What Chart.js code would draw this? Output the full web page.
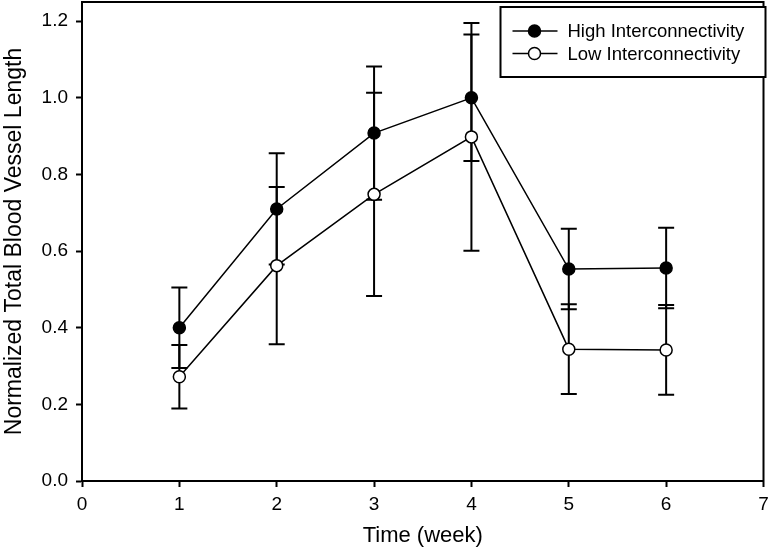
<!DOCTYPE html>
<html>
<head>
<meta charset="utf-8">
<script src="https://cdn.jsdelivr.net/npm/chart.js@4"></script>
<style>
  html, body { margin: 0; padding: 0; background: #fff; }
  #wrap { width: 771px; height: 550px; }
</style>
</head>
<body>
<div id="wrap"><canvas id="myChart"></canvas></div>
<script>
// datos
const weeks = [1, 2, 3, 4, 5, 6];
const highVals = [0.40, 0.71, 0.908, 1.00, 0.553, 0.556];
const highErr = [0.105, 0.145, 0.174, 0.165, 0.105, 0.105];
const lowVals = [0.272, 0.562, 0.748, 0.898, 0.344, 0.342];
const lowErr = [0.083, 0.205, 0.265, 0.297, 0.117, 0.117];
const yTicks = [0, 0.2, 0.4, 0.6, 0.8, 1.0, 1.2];
const seriesNames = ['High Interconnectivity', 'Low Interconnectivity'];

const FONT = "'Liberation Sans', Arial, sans-serif";
const TOP = 2;

function pts(vals) {
  return weeks.map((w, i) => ({ x: w, y: vals[i] }));
}

// subir el borde superior del area hasta TOP
const fixTop = {
  id: 'fixTop',
  afterLayout(chart) {
    const a = chart.chartArea, y = chart.scales.y;
    a.top = TOP;
    a.height = a.bottom - a.top;
    y.top = TOP;
    y.height = y.bottom - TOP;
    y.configure();
  }
};

// barras de error (debajo de los puntos)
const errorBars = {
  id: 'errorBars',
  beforeDatasetsDraw(chart) {
    const { ctx, scales: { x, y } } = chart;
    const errs = [highErr, lowErr];
    ctx.save();
    ctx.strokeStyle = '#000';
    ctx.lineWidth = 2;
    chart.data.datasets.forEach((ds, d) => {
      ds.data.forEach((p, i) => {
        const px = x.getPixelForValue(p.x);
        const top = y.getPixelForValue(p.y + errs[d][i]);
        const bot = y.getPixelForValue(p.y - errs[d][i]);
        ctx.beginPath();
        ctx.moveTo(px, top); ctx.lineTo(px, bot);
        ctx.moveTo(px - 8, top); ctx.lineTo(px + 8, top);
        ctx.moveTo(px - 8, bot); ctx.lineTo(px + 8, bot);
        ctx.stroke();
      });
    });
    ctx.restore();
  }
};

// marco y leyenda dentro del area
const frameLegend = {
  id: 'frameLegend',
  afterDraw(chart) {
    const { ctx, chartArea: a } = chart;
    ctx.save();
    ctx.strokeStyle = '#000';
    ctx.lineWidth = 2;
    ctx.strokeRect(a.left, a.top, a.right - a.left, a.bottom - a.top);

    const bw = 265, bh = 70;
    const bx = a.right + 2 - bw, by = a.top + 5;
    ctx.fillStyle = '#fff';
    ctx.fillRect(bx, by, bw, bh);
    ctx.strokeRect(bx, by, bw, bh);

    ctx.font = '18.5px ' + FONT;
    ctx.textBaseline = 'middle';
    chart.data.datasets.forEach((ds, d) => {
      const cy = by + 24 + d * 22.5;
      ctx.lineWidth = 1.5;
      ctx.beginPath();
      ctx.moveTo(bx + 12, cy); ctx.lineTo(bx + 57, cy);
      ctx.stroke();
      ctx.beginPath();
      ctx.arc(bx + 34, cy, 6, 0, Math.PI * 2);
      ctx.fillStyle = ds.pointBackgroundColor;
      ctx.fill();
      ctx.stroke();
      ctx.fillStyle = '#000';
      ctx.fillText(seriesNames[d], bx + 67, cy + 1);
    });
    ctx.restore();
  }
};

const ctx = document.getElementById('myChart');

new Chart(ctx, {
  type: 'line',
  data: {
    datasets: [{
      label: seriesNames[0],
      data: pts(highVals),
      borderColor: '#000',
      borderWidth: 1.5,
      pointRadius: 6,
      pointBackgroundColor: '#000',
      pointBorderColor: '#000',
      pointBorderWidth: 1.5
    }, {
      label: seriesNames[1],
      data: pts(lowVals),
      borderColor: '#000',
      borderWidth: 1.5,
      pointRadius: 6,
      pointBackgroundColor: '#fff',
      pointBorderColor: '#000',
      pointBorderWidth: 1.5
    }]
  },
  options: {
    responsive: true,
    maintainAspectRatio: false,
    animation: false,
    layout: { padding: { top: TOP, right: 7, left: 0, bottom: 0 } },
    plugins: {
      legend: false,
      title: false,
      subtitle: false,
      tooltip: false
    },
    scales: {
      x: {
        type: 'linear',
        min: 0,
        max: 7,
        afterFit(s) {
          s.height = 69;
          s.paddingLeft = 0;
          s.paddingRight = 0;
        },
        ticks: {
          stepSize: 1,
          color: '#000',
          padding: 6,
          font: { family: FONT, size: 19 }
        },
        grid: { drawOnChartArea: false, drawTicks: true, tickLength: 6, tickColor: '#000', tickWidth: 2 },
        border: { display: true, color: '#000', width: 2 },
        title: {
          display: true,
          text: 'Time (week)',
          color: '#000',
          font: { family: FONT, size: 22 },
          padding: { top: 0, bottom: 1 }
        }
      },
      y: {
        type: 'linear',
        min: 0,
        max: 1.25,
        afterFit(s) {
          s.width = 82;
          s.paddingTop = 0;
          s.paddingBottom = 0;
        },
        afterBuildTicks(s) { s.ticks = yTicks.map(v => ({ value: v })); },
        ticks: {
          color: '#000',
          padding: 8,
          font: { family: FONT, size: 19 },
          callback: v => Number(v).toFixed(1)
        },
        grid: { drawOnChartArea: false, drawTicks: true, tickLength: 6, tickColor: '#000', tickWidth: 2 },
        border: { display: true, color: '#000', width: 2 },
        title: {
          display: true,
          text: 'Normalized Total Blood Vessel Length',
          color: '#000',
          font: { family: FONT, size: 23 },
          padding: { top: 1, bottom: 0 }
        }
      }
    }
  },
  plugins: [fixTop, errorBars, frameLegend]
});
</script>
</body>
</html>
